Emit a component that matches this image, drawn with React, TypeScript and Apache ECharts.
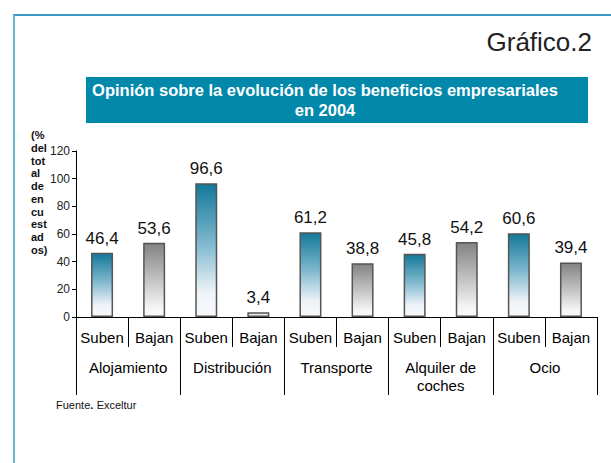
import React, { useEffect, useRef } from "react";
import * as echarts from "echarts";

const categories = ["Suben", "Bajan", "Suben", "Bajan", "Suben", "Bajan", "Suben", "Bajan", "Suben", "Bajan"];
const groups = ["Alojamiento", "Distribución", "Transporte", "Alquiler de\ncoches", "Ocio"];
const values = [46.4, 53.6, 96.6, 3.4, 61.2, 38.8, 45.8, 54.2, 60.6, 39.4];
const yTicks = { min: 0, max: 120, interval: 20 };

export default function App() {
  const ref = useRef<HTMLDivElement>(null);
  useEffect(() => {
    if (!ref.current) return;
    const chart = echarts.init(ref.current, null, { renderer: "svg" });
    const subenFill = new echarts.graphic.LinearGradient(0, 0, 0, 1, [
      { offset: 0, color: "#137899" },
      { offset: 0.45, color: "#7fb8ce" },
      { offset: 0.82, color: "#eef3f8" },
      { offset: 1, color: "#f8f9fc" },
    ]);
    const bajanFill = new echarts.graphic.LinearGradient(0, 0, 0, 1, [
      { offset: 0, color: "#838383" },
      { offset: 0.5, color: "#c3c3c3" },
      { offset: 0.88, color: "#f5f5f5" },
      { offset: 1, color: "#fafafa" },
    ]);
    const shortFill = new echarts.graphic.LinearGradient(0, 0, 0, 1, [
      { offset: 0, color: "#dcdcdc" },
      { offset: 1, color: "#f6f6f6" },
    ]);
    const font = "'Liberation Sans', Arial, sans-serif";
    chart.setOption({
      animation: false,
      textStyle: { fontFamily: font },
      grid: { left: 76, right: 14, top: 151, bottom: 146, containLabel: false },
      xAxis: [
        {
          type: "category",
          data: categories,
          position: "bottom",
          axisLine: { show: true, lineStyle: { color: "#000", width: 1 } },
          axisTick: { show: true, interval: 0, length: 30, lineStyle: { color: "#000" } },
          axisLabel: { interval: 0, margin: 13, fontSize: 15, color: "#000", fontFamily: font },
        },
        {
          type: "category",
          data: groups,
          position: "bottom",
          axisLine: { show: false },
          axisTick: { show: true, interval: 0, length: 78, lineStyle: { color: "#000" } },
          axisLabel: { interval: 0, margin: 41, fontSize: 15, lineHeight: 18, color: "#000", fontFamily: font },
        },
      ],
      yAxis: {
        type: "value",
        min: yTicks.min,
        max: yTicks.max,
        interval: yTicks.interval,
        axisLine: { show: true, lineStyle: { color: "#000", width: 1 } },
        axisTick: { show: true, length: 4, lineStyle: { color: "#000" } },
        axisLabel: { fontSize: 12, color: "#222", margin: 6, fontFamily: font },
        splitLine: { show: false },
      },
      series: [
        {
          type: "bar",
          xAxisIndex: 0,
          barWidth: 22,
          data: values.map((v, i) => ({
            value: v,
            itemStyle: {
              color: i % 2 === 0 ? subenFill : v < 10 ? shortFill : bajanFill,
              borderColor: "#555",
              borderWidth: 1.5,
            },
          })),
          label: {
            show: true,
            position: "top",
            distance: 6,
            fontSize: 17,
            color: "#111",
            fontFamily: font,
            formatter: (p: any) => String(p.value).replace(".", ","),
          },
        },
      ],
      graphic: [
        { type: "line", shape: { x1: 13, y1: 15, x2: 611, y2: 15 }, style: { stroke: "#3a97c7", lineWidth: 2 } },
        { type: "line", shape: { x1: 14, y1: 15, x2: 14, y2: 463 }, style: { stroke: "#6bb3d8", lineWidth: 2 } },
        {
          type: "text",
          x: 592,
          y: 42,
          style: { text: "Gráfico.2", fontSize: 26, fill: "#222", textAlign: "right", textVerticalAlign: "middle", fontFamily: font },
        },
        { type: "rect", shape: { x: 86, y: 77, width: 502, height: 46 }, style: { fill: "#0288aa" } },
        {
          type: "text",
          x: 325,
          y: 100,
          style: {
            text: "Opinión sobre la evolución de los beneficios empresariales\nen 2004",
            fontSize: 16.5,
            fontWeight: "bold",
            lineHeight: 20,
            fill: "#fff",
            textAlign: "center",
            textVerticalAlign: "middle",
            fontFamily: font,
          },
        },
        {
          type: "text",
          x: 31,
          y: 129,
          style: {
            text: "(%\ndel\ntot\nal\nde\nen\ncu\nest\nad\nos)",
            fontSize: 11,
            fontWeight: "bold",
            lineHeight: 12.7,
            fill: "#111",
            textAlign: "left",
            textVerticalAlign: "top",
            fontFamily: font,
          },
        },
        {
          type: "text",
          x: 56,
          y: 405,
          style: {
            text: "{a|Fuente}{b|.} {a|Exceltur}",
            rich: {
              a: { fontSize: 11, fill: "#111", fontFamily: font },
              b: { fontSize: 11, fontWeight: "bold", fill: "#111", fontFamily: font },
            },
            textVerticalAlign: "middle",
          },
        },
      ],
    });
    return () => chart.dispose();
  }, []);
  return (
    <div
      ref={ref}
      style={{ position: "fixed", left: 0, top: 0, width: 611, height: 463, background: "#fff" }}
    />
  );
}
